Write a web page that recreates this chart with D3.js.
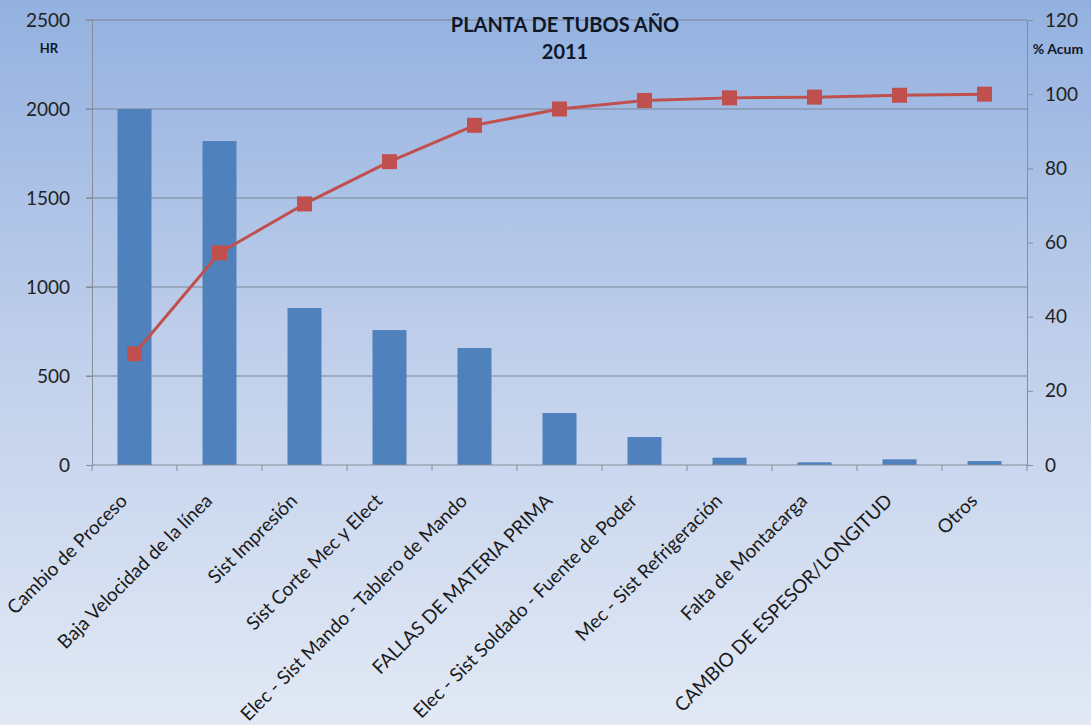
<!DOCTYPE html>
<html>
<head>
<meta charset="utf-8">
<script src="https://cdn.jsdelivr.net/npm/d3@7"></script>
<style>
  body { margin: 0; }
  svg { display: block; }
</style>
</head>
<body>
<div id="chart"></div>
<script>
// categories and values
const categories = [
  "Cambio de Proceso",
  "Baja Velocidad de la línea",
  "Sist Impresión",
  "Sist Corte Mec y Elect",
  "Elec - Sist Mando - Tablero de Mando",
  "FALLAS DE MATERIA PRIMA",
  "Elec - Sist Soldado - Fuente de Poder",
  "Mec - Sist Refrigeración",
  "Falta de Montacarga",
  "CAMBIO DE ESPESOR/LONGITUD",
  "Otros"
];
const hours = [2000, 1820, 882, 758, 657, 292, 157, 41, 15, 32, 22];
const pctAcum = [30, 57.2, 70.4, 81.8, 91.6, 96, 98.3, 99, 99.2, 99.7, 100];
const leftTicks = [0, 500, 1000, 1500, 2000, 2500];
const rightTicks = [0, 20, 40, 60, 80, 100, 120];

const width = 1091;
const height = 725;
const margin = { top: 20, right: 64, bottom: 260, left: 92 };
const font = "Lato, 'Open Sans', sans-serif";

const svg = d3.select("#chart")
  .append("svg")
  .attr("width", width)
  .attr("height", height);

// background gradient
const defs = svg.append("defs");
const grad = defs.append("linearGradient")
  .attr("id", "bg")
  .attr("x1", 0).attr("y1", 0)
  .attr("x2", 0).attr("y2", 1);
grad.append("stop").attr("offset", "0%").attr("stop-color", "#93b1e0");
grad.append("stop").attr("offset", "45%").attr("stop-color", "#bdcdea");
grad.append("stop").attr("offset", "100%").attr("stop-color", "#e2e9f5");

svg.append("rect")
  .attr("width", width)
  .attr("height", height)
  .attr("fill", "url(#bg)");

const plotW = width - margin.left - margin.right;
const plotH = height - margin.top - margin.bottom;

const g = svg.append("g")
  .attr("transform", "translate(" + margin.left + "," + margin.top + ")");

const x = d3.scaleBand()
  .domain(categories)
  .range([0, plotW])
  .paddingInner(0.6)
  .paddingOuter(0.3);

const y = d3.scaleLinear().domain([0, 2500]).range([plotH, 0]);
const y2 = d3.scaleLinear().domain([0, 120]).range([plotH, 0]);

// gridlines
g.append("g")
  .selectAll("line")
  .data(leftTicks.filter((d) => d > 0))
  .join("line")
  .attr("x1", -6)
  .attr("x2", plotW)
  .attr("y1", (d) => y(d))
  .attr("y2", (d) => y(d))
  .attr("stroke", "#7b8594")
  .attr("stroke-width", 1);

// bars
g.append("g")
  .selectAll("rect")
  .data(hours)
  .join("rect")
  .attr("x", (d, i) => x(categories[i]))
  .attr("y", (d) => y(d))
  .attr("width", x.bandwidth())
  .attr("height", (d) => plotH - y(d))
  .attr("fill", "#4f81bd");

// left axis
const axisLeft = g.append("g")
  .call(d3.axisLeft(y).tickValues(leftTicks).tickFormat(d3.format("d")).tickSize(6).tickPadding(16))
  .style("font-family", font)
  .style("font-size", "19px");
axisLeft.select(".domain").attr("stroke", "#868e99");
axisLeft.selectAll(".tick line").attr("stroke", "#868e99");
axisLeft.selectAll(".tick text").attr("fill", "#222");

// right axis
const axisRight = g.append("g")
  .attr("transform", "translate(" + plotW + ",0)")
  .call(d3.axisRight(y2).tickValues(rightTicks).tickFormat(d3.format("d")).tickSize(6).tickPadding(12))
  .style("font-family", font)
  .style("font-size", "19px");
axisRight.select(".domain").attr("stroke", "#868e99");
axisRight.selectAll(".tick line").attr("stroke", "#868e99");
axisRight.selectAll(".tick text").attr("fill", "#222");

// bottom axis: tick marks at category boundaries
const bottom = g.append("g").attr("transform", "translate(0," + plotH + ")");
bottom.append("line")
  .attr("x1", 0)
  .attr("x2", plotW)
  .attr("stroke", "#868e99");
bottom.selectAll(".bt")
  .data(d3.range(categories.length + 1))
  .join("line")
  .attr("class", "bt")
  .attr("x1", (i) => i * x.step())
  .attr("x2", (i) => i * x.step())
  .attr("y1", 0)
  .attr("y2", 6)
  .attr("stroke", "#868e99");

bottom.selectAll("text")
  .data(categories)
  .join("text")
  .attr("transform", (d) => {
    const cx = x(d) + x.bandwidth() / 2 - 6;
    return "translate(" + cx + ",37) rotate(-45)";
  })
  .attr("text-anchor", "end")
  .style("font-family", font)
  .style("font-size", "19px")
  .attr("fill", "#1a1a1a")
  .text((d) => d);

// cumulative line
const line = d3.line()
  .x((d, i) => x(categories[i]) + x.bandwidth() / 2)
  .y((d) => y2(d));

g.append("path")
  .datum(pctAcum)
  .attr("fill", "none")
  .attr("stroke", "#c0504d")
  .attr("stroke-width", 3)
  .attr("stroke-linejoin", "round")
  .attr("d", line);

g.append("g")
  .selectAll("rect")
  .data(pctAcum)
  .join("rect")
  .attr("x", (d, i) => x(categories[i]) + x.bandwidth() / 2 - 7.5)
  .attr("y", (d) => y2(d) - 7.5)
  .attr("width", 15)
  .attr("height", 15)
  .attr("fill", "#c0504d");

// title and axis names
const title = svg.append("text")
  .attr("x", 565)
  .attr("text-anchor", "middle")
  .style("font-family", font)
  .style("font-weight", "bold")
  .style("font-size", "20px")
  .attr("fill", "#101828");
title.append("tspan").attr("x", 565).attr("y", 32).text("PLANTA DE TUBOS AÑO");
title.append("tspan").attr("x", 565).attr("y", 59).text("2011");

svg.append("text")
  .attr("x", 49)
  .attr("y", 53)
  .attr("text-anchor", "middle")
  .style("font-family", font)
  .style("font-weight", "bold")
  .style("font-size", "13px")
  .attr("fill", "#101828")
  .text("HR");

svg.append("text")
  .attr("x", 1058)
  .attr("y", 54)
  .attr("text-anchor", "middle")
  .style("font-family", font)
  .style("font-weight", "bold")
  .style("font-size", "14px")
  .attr("fill", "#101828")
  .text("% Acum");
</script>
</body>
</html>
